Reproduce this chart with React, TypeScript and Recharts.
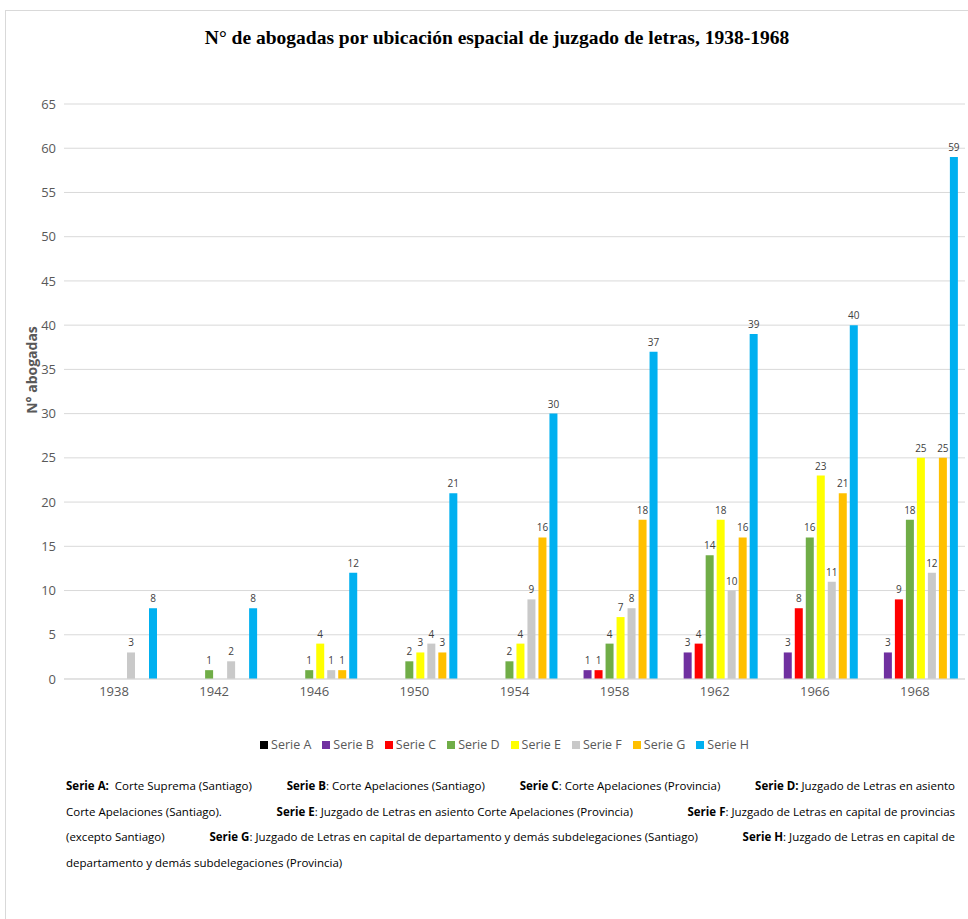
import { BarChart, Bar, XAxis, YAxis, CartesianGrid, LabelList } from 'recharts'

const years = ['1938', '1942', '1946', '1950', '1954', '1958', '1962', '1966', '1968']

const serieA = [0, 0, 0, 0, 0, 0, 0, 0, 0]
const serieB = [0, 0, 0, 0, 0, 1, 3, 3, 3]
const serieC = [0, 0, 0, 0, 0, 1, 4, 8, 9]
const serieD = [0, 1, 1, 2, 2, 4, 14, 16, 18]
const serieE = [0, 0, 4, 3, 4, 7, 18, 23, 25]
const serieF = [3, 2, 1, 4, 9, 8, 10, 11, 12]
const serieG = [0, 0, 1, 3, 16, 18, 16, 21, 25]
const serieH = [8, 8, 12, 21, 30, 37, 39, 40, 59]

const yTicks = [0, 5, 10, 15, 20, 25, 30, 35, 40, 45, 50, 55, 60, 65]

const series = [
  { key: 'A', name: 'Serie A', values: serieA, color: '#000000' },
  { key: 'B', name: 'Serie B', values: serieB, color: '#7030a0' },
  { key: 'C', name: 'Serie C', values: serieC, color: '#ff0000' },
  { key: 'D', name: 'Serie D', values: serieD, color: '#70ad47' },
  { key: 'E', name: 'Serie E', values: serieE, color: '#ffff00' },
  { key: 'F', name: 'Serie F', values: serieF, color: '#c9c9c9' },
  { key: 'G', name: 'Serie G', values: serieG, color: '#ffc000' },
  { key: 'H', name: 'Serie H', values: serieH, color: '#00b0f0' },
]

const data = years.map((y, i) => {
  const row: any = { year: y }
  series.forEach((s) => {
    row[s.key] = s.values[i]
  })
  return row
})

const notes: { b: string; t: string }[][] = [
  [
    { b: 'Serie A:', t: '\u00a0 Corte Suprema (Santiago)' },
    { b: 'Serie B', t: ': Corte Apelaciones (Santiago)' },
    { b: 'Serie C', t: ': Corte Apelaciones (Provincia)' },
    { b: 'Serie D:', t: ' Juzgado de Letras en asiento' },
  ],
  [
    { b: '', t: 'Corte Apelaciones (Santiago).' },
    { b: 'Serie E', t: ': Juzgado de Letras en asiento Corte Apelaciones (Provincia)' },
    { b: 'Serie F', t: ': Juzgado de Letras en capital de provincias' },
  ],
  [
    { b: '', t: '(excepto Santiago)' },
    { b: 'Serie G', t: ': Juzgado de Letras en capital de departamento y demás subdelegaciones (Santiago)' },
    { b: 'Serie H', t: ': Juzgado de Letras en capital de' },
  ],
  [{ b: '', t: 'departamento y demás subdelegaciones (Provincia)' }],
]

const axisFont = "'Open Sans', 'Liberation Sans', sans-serif"
const noteFont = "'Open Sans', sans-serif"

function ValueLabel(props: any) {
  const { x, y, width, value } = props
  if (!value) return null
  return (
    <text
      x={Number(x) + Number(width) / 2}
      y={Number(y) - 6}
      textAnchor="middle"
      fontSize={10}
      fontFamily={axisFont}
      fill="#404040"
    >
      {value}
    </text>
  )
}

export default function App() {
  return (
    <div
      style={{
        position: 'absolute',
        left: 0,
        top: 0,
        width: 968,
        height: 919,
        background: '#fff',
        overflow: 'hidden',
      }}
    >
      <div
        style={{
          position: 'absolute',
          left: 5,
          top: 10,
          width: 980,
          height: 940,
          borderLeft: '1px solid #d9d9d9',
          borderTop: '1px solid #d9d9d9',
        }}
      />
      <div
        style={{
          position: 'absolute',
          left: 0,
          top: 27,
          width: 994,
          textAlign: 'center',
          fontFamily: "'Liberation Serif', serif",
          fontWeight: 'bold',
          fontSize: 19.5,
          color: '#000',
        }}
      >
        N° de abogadas por ubicación espacial de juzgado de letras, 1938-1968
      </div>
      <div style={{ position: 'absolute', left: 0, top: 0 }}>
        <BarChart
          width={968}
          height={710}
          data={data}
          margin={{ top: 104, right: 3, left: 0, bottom: 0 }}
          barSize={8}
          barGap={3}
        >
          <CartesianGrid vertical={false} stroke="#d9d9d9" />
          <XAxis
            dataKey="year"
            axisLine={{ stroke: '#d9d9d9' }}
            tickLine={false}
            tick={{ fontSize: 13, fill: '#595959', fontFamily: axisFont }}
            height={31}
          />
          <YAxis
            domain={[0, 65]}
            ticks={yTicks}
            interval={0}
            axisLine={false}
            tickLine={false}
            width={64}
            tick={{ fontSize: 13, fill: '#595959', fontFamily: axisFont }}
          />
          {series.map((s) => (
            <Bar key={s.key} dataKey={s.key} name={s.name} fill={s.color} isAnimationActive={false}>
              <LabelList dataKey={s.key} content={<ValueLabel />} />
            </Bar>
          ))}
        </BarChart>
      </div>
      <div
        style={{
          position: 'absolute',
          left: 31,
          top: 370,
          transform: 'translate(-50%, -50%) rotate(-90deg)',
          fontFamily: axisFont,
          fontWeight: 'bold',
          fontSize: 14,
          color: '#595959',
          whiteSpace: 'nowrap',
        }}
      >
        N° abogadas
      </div>
      <div
        style={{
          position: 'absolute',
          left: 0,
          top: 736,
          width: 1020,
          display: 'flex',
          justifyContent: 'center',
          fontFamily: noteFont,
          fontSize: 12.5,
          color: '#595959',
        }}
      >
        {series.map((s) => (
          <div key={s.key} style={{ display: 'flex', alignItems: 'center', marginRight: 11 }}>
            <span style={{ width: 8, height: 8, background: s.color, display: 'inline-block', marginRight: 3 }} />
            <span>{s.name}</span>
          </div>
        ))}
      </div>
      <div
        style={{
          position: 'absolute',
          left: 66,
          top: 778,
          width: 889,
          fontFamily: noteFont,
          fontSize: 11.5,
          color: '#000',
        }}
      >
        {notes.map((line, i) => (
          <div
            key={i}
            style={{
              height: 25.5,
              lineHeight: '16px',
              display: 'flex',
              justifyContent: i < notes.length - 1 ? 'space-between' : 'flex-start',
              whiteSpace: 'pre',
            }}
          >
            {line.map((p, j) => (
              <span key={j}>
                {p.b && <b>{p.b}</b>}
                {p.t}
              </span>
            ))}
          </div>
        ))}
      </div>
    </div>
  )
}
